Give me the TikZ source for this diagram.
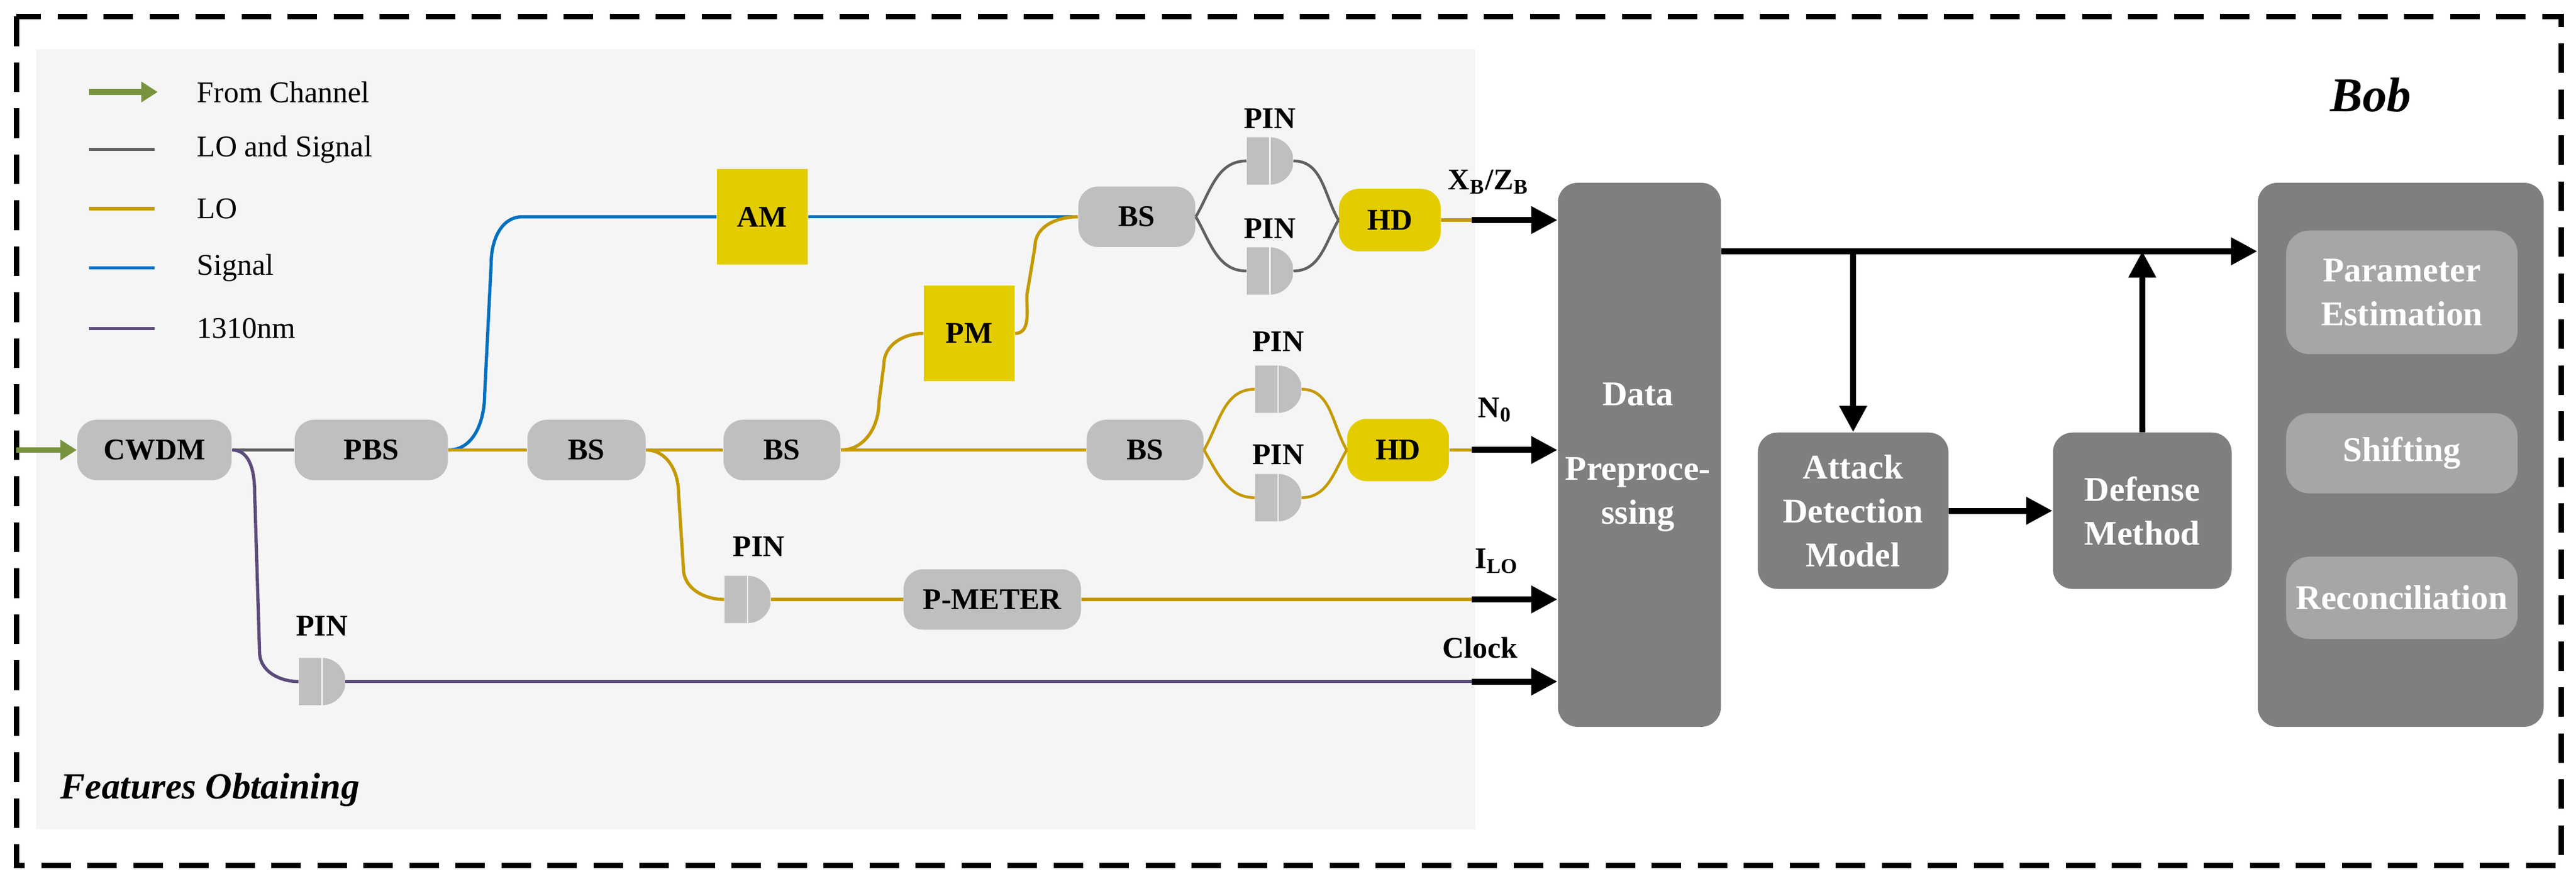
\documentclass[tikz,border=0pt]{standalone}
\usepackage{fontspec}
\setmainfont{Liberation Serif}
\usetikzlibrary{positioning,arrows.meta}
\definecolor{lightbg}{HTML}{F5F5F5}
\definecolor{boxgray}{HTML}{BFBFBF}
\definecolor{darkbox}{HTML}{7F7F7F}
\definecolor{innerbox}{HTML}{A6A6A6}
\definecolor{modyellow}{HTML}{E3CD00}
\definecolor{locol}{HTML}{C49A00}
\definecolor{sigcol}{HTML}{0070C0}
\definecolor{clkcol}{HTML}{5B4B7A}
\definecolor{mixcol}{HTML}{606060}
\definecolor{chcol}{HTML}{77933C}
\tikzset{
  txt/.style={font=\fontsize{13}{15}\selectfont\bfseries},
  optic/.style={txt, fill=boxgray, rounded corners=0.3cm, minimum height=0.92cm, inner sep=0},
  modul/.style={txt, fill=modyellow, minimum width=1.38cm, minimum height=1.45cm, inner sep=0},
  hd/.style={txt, fill=modyellow, rounded corners=0.3cm, minimum width=1.55cm, minimum height=0.95cm, inner sep=0},
  pin/.style={minimum width=0.7cm, minimum height=0.72cm, inner sep=0,
    path picture={
      \fill[boxgray] (path picture bounding box.south west) |- (path picture bounding box.north)
        arc[start angle=90, end angle=-90, radius=0.36cm] -- cycle;
      \draw[white!75!boxgray, line width=0.6pt] (path picture bounding box.north) -- (path picture bounding box.south);}},
  pinlbl/.style={txt},
  fib/.style={line width=1.4pt},
  lo/.style={fib, locol},
  sig/.style={fib, sigcol},
  clk/.style={fib, clkcol},
  mix/.style={fib, mixcol},
  dat/.style={line width=2.6pt, -{Triangle[length=0.4cm, width=0.4cm]}},
  proc/.style={fill=darkbox, rounded corners=0.3cm, text=white, font=\fontsize{15}{19}\selectfont\bfseries, align=center, inner sep=0},
  substep/.style={fill=innerbox, rounded corners=0.35cm, text=white, font=\fontsize{15}{19}\selectfont\bfseries, align=center, minimum width=3.52cm, inner sep=0},
}
\begin{document}
\begin{tikzpicture}[x=0.025cm, y=-0.025cm]
  \useasboundingbox (0,0) rectangle (1568,535);

  % frames
  \fill[lightbg] (22,30) rectangle (898,505);
  \draw[line width=2.2pt, dash pattern=on 0.45cm off 0.25cm] (10,10) rectangle (1559,527);
  \node[font=\fontsize{21}{25}\selectfont\bfseries\itshape] (bob) at (1443,58) {Bob};
  \node[font=\fontsize{16}{19}\selectfont\bfseries\itshape, anchor=west] (feat) at (32,481) {Features Obtaining};

  % legend
  \coordinate (lg0) at (54,56);
  \draw[line width=2.4pt, chcol, -{Triangle[length=0.25cm,width=0.3cm]}] (lg0) -- ++(42,0);
  \draw[mix] (54,91) -- (94,91);
  \draw[lo] (54,127) -- (94,127);
  \draw[sig] (54,163) -- (94,163);
  \draw[clk] (54,200) -- (94,200);
  \foreach \y/\t in {56/From Channel, 91/LO and Signal, 127/LO, 163/Signal, 200/1310nm}
    \node[anchor=west, font=\fontsize{13}{15}\selectfont] at (115,\y) {\t};

  % optical components
  \node[optic, minimum width=2.35cm] (cwdm) at (94,274) {CWDM};
  \node[optic, minimum width=2.33cm] (pbs) at (226,274) {PBS};
  \node[optic, minimum width=1.8cm] (bsa) at (357,274) {BS};
  \node[optic, minimum width=1.78cm] (bsb) at (476,274) {BS};
  \node[modul] (am) at (464,132) {AM};
  \node[modul] (pm) at (590,203) {PM};
  \node[optic, minimum width=1.78cm] (bsc) at (692,132) {BS};
  \node[optic, minimum width=1.78cm] (bsd) at (697,274) {BS};
  \node[hd] (hda) at (846,134) {HD};
  \node[hd] (hdb) at (851,274) {HD};
  \node[optic, minimum width=2.7cm] (pmeter) at (604,365) {P-METER};

  \node[pin] (pina) at (773,98) {};
  \node[pin] (pinb) at (773,165) {};
  \node[pin] (pinc) at (778,237) {};
  \node[pin] (pind) at (778,303) {};
  \node[pin] (pine) at (455,365) {};
  \node[pin] (pinf) at (196,415) {};
  \node[pinlbl] at (773,72) {PIN};
  \node[pinlbl] at (773,139) {PIN};
  \node[pinlbl] at (778,208) {PIN};
  \node[pinlbl] at (778,277) {PIN};
  \node[pinlbl] at (462,333) {PIN};
  \node[pinlbl] at (196,381) {PIN};

  % fibres
  \draw[line width=2.4pt, chcol, -{Triangle[length=0.25cm,width=0.3cm]}] (10,274) -- (cwdm.west);
  \draw[mix] (cwdm.east) -- (pbs.west);
  \draw[clk] (cwdm.east) to[out=0, in=90] (155,300) -- (158,397) to[out=-90, in=180] (pinf.west);
  \draw[sig] (pbs.east) to[out=0, in=-90] (295,240) -- (299,160) to[out=90, in=180] (318,132) -- (am.west);
  \draw[sig] (am.east) -- (bsc.west);
  \draw[lo] (pbs.east) -- (bsa.west);
  \draw[lo] (bsa.east) -- (bsb.west);
  \draw[lo] (bsa.east) to[out=0, in=90] (413,300) -- (416,346) to[out=-90, in=180] (pine.west);
  \draw[lo] (bsb.east) to[out=0, in=-90] (535,245) -- (538,222) to[out=90, in=180] (pm.west);
  \draw[lo] (bsb.east) -- (bsd.west);
  \draw[lo] (pm.east) to[out=0, in=-90] (625,180) -- (630,150) to[out=90, in=180] (bsc.west);
  \draw[lo] (pine.east) -- (pmeter.west);
  \foreach \s/\a/\b/\h in {bsc/pina/pinb/hda}{
    \draw[mixcol, line width=1.2pt] (\s.east) to[out=60, in=180] (\a.west);
    \draw[mixcol, line width=1.2pt] (\s.east) to[out=-60, in=180] (\b.west);
    \draw[mixcol, line width=1.2pt] (\a.east) to[out=0, in=120] (\h.west);
    \draw[mixcol, line width=1.2pt] (\b.east) to[out=0, in=-120] (\h.west);
  }
  \draw[locol, line width=1.2pt] (bsd.east) to[out=60, in=180] (pinc.west);
  \draw[locol, line width=1.2pt] (bsd.east) to[out=-60, in=180] (pind.west);
  \draw[locol, line width=1.2pt] (pinc.east) to[out=0, in=120] (hdb.west);
  \draw[locol, line width=1.2pt] (pind.east) to[out=0, in=-120] (hdb.west);

  % data processing
  \node[proc, minimum width=2.48cm, minimum height=8.28cm, anchor=north west] (prep) at (948,111) {};
  \node[text=white, font=\fontsize{15}{19}\selectfont\bfseries] (prept) at (997,240) {Data};
  \node[text=white, font=\fontsize{15}{19}\selectfont\bfseries, align=center] at (997,301) {Preproce-\\ssing};
  \node[proc, minimum width=2.9cm, minimum height=2.38cm] (attack) at (1128,311) {Attack\\Detection\\Model};
  \node[proc, minimum width=2.72cm, minimum height=2.38cm] (defense) at (1304,311) {Defense\\Method};
  \node[proc, minimum width=4.35cm, minimum height=8.28cm, anchor=north west] (post) at (1374,111) {};
  \node[substep, minimum height=1.88cm] (param) at (1462,178) {Parameter\\Estimation};
  \node[substep, minimum height=1.22cm] (shift) at (1462,276) {Shifting};
  \node[substep, minimum height=1.25cm] (recon) at (1462,364) {Reconciliation};

  % outputs
  \foreach \y/\t/\c in {134/hda/locol, 274/hdb/locol, 365/pmeter/locol}{
    \draw[\c, fib] (\t.east) -- (896,\y);
    \draw[dat] (896,\y) -- (prep.west |- 0,\y);
  }
  \draw[clk] (pinf.east) -- (896,415);
  \draw[dat] (896,415) -- (prep.west |- 0,415);
  \node[txt, anchor=south] at (906,123) {X\textsubscript{B}/Z\textsubscript{B}};
  \node[txt, anchor=south] at (910,262) {N\textsubscript{0}};
  \node[txt, anchor=south] at (911,354) {I\textsubscript{LO}};
  \node[txt, anchor=south] at (901,406) {Clock};

  \coordinate (split) at (1128,153);
  \coordinate (merge) at (1304,153);
  \draw[dat] (prep.east |- split) -- (post.west |- split);
  \draw[dat] (split) -- (attack.north);
  \draw[dat] (defense.north) -- (merge);
  \draw[dat] (attack.east) -- (defense.west);
\end{tikzpicture}
\end{document}
